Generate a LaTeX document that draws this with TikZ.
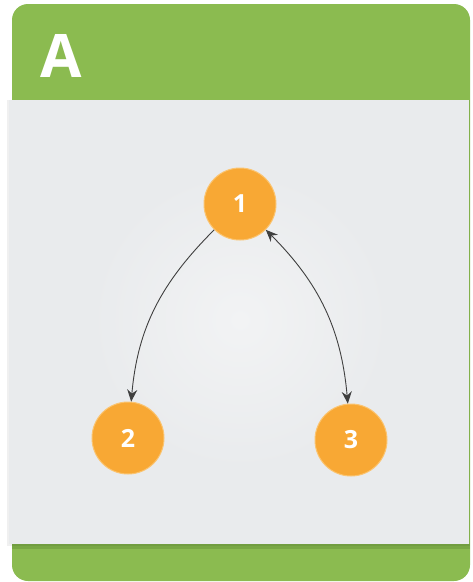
\documentclass[tikz,border=0pt]{standalone}
\usepackage{fontspec}
\setmainfont{Open Sans}
\usetikzlibrary{arrows.meta}
\definecolor{cardgreen}{HTML}{8BBB50}
\definecolor{greendark}{HTML}{6E9A3C}
\definecolor{nodeorange}{HTML}{F8A834}
\definecolor{nodeedge}{HTML}{FBC470}
\definecolor{panelgray}{HTML}{E9EBED}
\definecolor{panellight}{HTML}{F2F3F4}
\definecolor{linegray}{HTML}{3F3F3F}
\tikzset{
  numnode/.style={circle, fill=nodeorange, draw=nodeedge, line width=1pt,
    minimum size=72pt, inner sep=0pt, text=white, font=\bfseries\fontsize{25}{25}\selectfont},
  link/.style={draw=linegray, line width=0.9pt},
  tip/.style={-{Stealth[length=12pt,width=10pt]}},
  tips/.style={{Stealth[length=12pt,width=10pt]}-{Stealth[length=12pt,width=10pt]}}
}
\begin{document}
\begin{tikzpicture}[x=1pt,y=-1pt]
\useasboundingbox (0,0) rectangle (473,582);
\fill[white] (0,0) rectangle (473,582);
% card
\fill[cardgreen, rounded corners=16pt] (12,4) rectangle (470,581);
% panel shadow
\fill[greendark, opacity=0.6] (12,544) rectangle (470,549);
\fill[black, opacity=0.06] (7,100) rectangle (470,546);
% panel
\fill[panelgray] (9,100) rectangle (469,544);
\shade[inner color=panellight, outer color=panelgray] (240,320) circle (150);
% title
\node[text=white, font=\bfseries\fontsize{60}{60}\selectfont, anchor=base west] (title) at (37,77) {A};
% nodes
\node[numnode] (n1) at (240,204) {1};
\node[numnode] (n2) at (128,438) {2};
\node[numnode] (n3) at (351,440) {3};
% connectors
\draw[link, tip] (n1) to[out=225, in=85] (n2);
\draw[link, tips] (n1) to[out=-45, in=95] (n3);
\end{tikzpicture}
\end{document}
